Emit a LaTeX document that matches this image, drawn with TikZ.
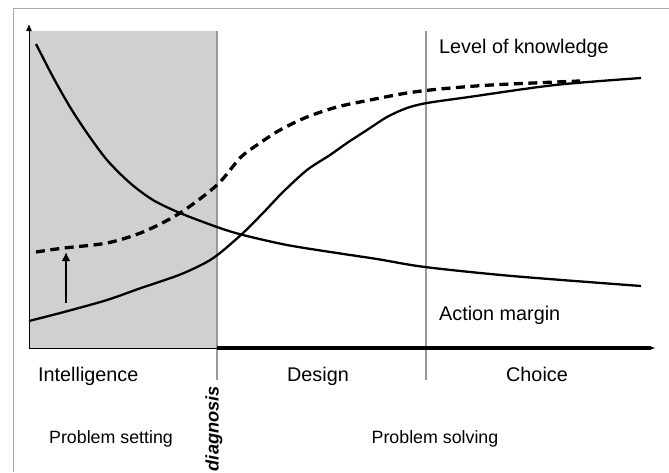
\documentclass[tikz,border=0pt]{standalone}
\usepackage{fontspec}
\setmainfont{Liberation Sans}
\usetikzlibrary{arrows.meta}
\definecolor{phasefill}{HTML}{D0D0D0}
\definecolor{divider}{HTML}{999999}
\definecolor{framegray}{HTML}{A8A8A8}
\begin{document}
\begin{tikzpicture}[x=1pt,y=-1pt,
  curve/.style={line width=2.3pt,line join=round},
  dashcurve/.style={line width=3.3pt,dash pattern=on 9pt off 5.5pt},
  phaselabel/.style={font=\fontsize{19.8}{22}\selectfont,inner sep=0pt,anchor=base},
  curvelabel/.style={font=\fontsize{19.8}{22}\selectfont,inner sep=0pt,anchor=base west},
  steplabel/.style={font=\fontsize{17.8}{20}\selectfont,inner sep=0pt,anchor=base},
  divline/.style={draw=divider,line width=1.3pt}]
\useasboundingbox (0,0) rectangle (669,472);

% outer frame
\draw[framegray,line width=1pt] (13,472) -- (13,8) -- (669,8);

% intelligence phase background
\fill[phasefill] (29,31) rectangle (217,348);

% phase dividers
\draw[divline] (217,31) -- (217,380);
\draw[divline] (426,31) -- (426,380);

% axes
\coordinate (origin) at (29,348);
\coordinate (ytip) at (29,24);
\coordinate (diagx) at (217,348);
\coordinate (xtip) at (656,348);
\draw[line width=1pt,-{Latex[length=7pt,width=6pt]}] (origin) -- (ytip);
\draw[line width=1pt] (origin) -- (diagx);
\draw[line width=3.3pt,-{Latex[length=6pt,width=4pt]}] (diagx) -- (xtip);

% action margin
\draw[curve] plot[smooth,tension=0.5] coordinates {
  (36,44) (53,77) (70,107) (87,133) (107,160) (130,183) (153,200)
  (180,213) (217,227) (243,235) (287,245) (337,253) (377,259)
  (425,267) (512,276) (641,286)};

% level of knowledge
\draw[curve] plot[smooth,tension=0.5] coordinates {
  (29,321) (64,312) (107,300) (141,288) (179,275) (205,263) (220,253)
  (243,233) (263,213) (283,192) (307,170) (330,155) (347,143)
  (367,130) (387,117) (407,108) (427,103) (469,97) (555,85) (641,78)};

% improved level of knowledge
\draw[dashcurve] plot[smooth,tension=0.5] coordinates {
  (36,252) (64,248) (107,243) (143,232) (180,213) (217,185) (240,158)
  (257,145) (280,130) (307,117) (337,107) (370,100) (407,93)
  (440,89) (491,85) (580,81)};

% shift upwards
\coordinate (shiftfrom) at (66,303);
\coordinate (shiftto) at (66,252);
\draw[line width=2.6pt,-{Latex[length=9pt,width=9pt]}] (shiftfrom) -- (shiftto);

% labels
\node[curvelabel] (know) at (439,53) {Level of knowledge};
\node[curvelabel] (margin) at (439,320) {Action margin};
\node[curvelabel] (intel) at (38,381.5) {Intelligence};
\node[phaselabel] (design) at (318,381.5) {Design};
\node[phaselabel] (choice) at (537,381.5) {Choice};
\node[steplabel] (setting) at (111,443) {Problem setting};
\node[steplabel] (solving) at (435,443) {Problem solving};
\node[font=\fontsize{18.2}{21}\selectfont\bfseries\itshape,inner sep=0pt,
      rotate=90,anchor=east] (diag) at (214,386) {diagnosis};
\end{tikzpicture}
\end{document}
